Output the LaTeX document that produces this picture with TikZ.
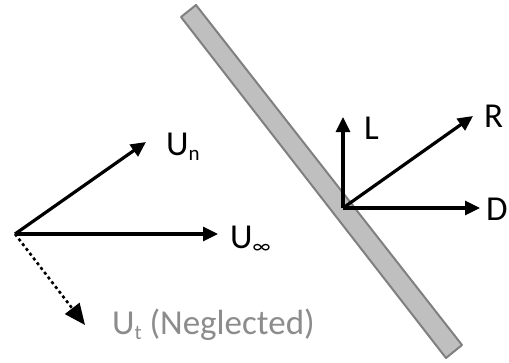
\documentclass[tikz,border=0pt]{standalone}
\usepackage{fontspec}
\setmainfont{Carlito}
\usetikzlibrary{arrows.meta}
\definecolor{platefill}{RGB}{191,191,191}
\definecolor{plateedge}{RGB}{128,128,128}
\definecolor{neglect}{RGB}{140,140,140}
\newcommand{\sbs}[1]{\raisebox{-0.16em}{\fontsize{21}{22}\selectfont #1}}
\tikzset{
  vec/.style={line width=3.2pt, -{Triangle[length=15pt,width=14pt]}},
  dvec/.style={line width=2.6pt, dash pattern=on 3pt off 3pt, -{Triangle[length=21pt,width=18pt]}},
  lab/.style={anchor=base west, inner sep=0pt, font=\fontsize{35}{40}\selectfont},
  plate/.style={fill=platefill, draw=plateedge, line width=2pt, line join=round}
}
\begin{document}
\begin{tikzpicture}[x=1pt,y=-1pt]
\useasboundingbox (0,0) rectangle (509,362);
% plate
\draw[plate] (181,17) -- (196,5) -- (462,345) -- (446,358) -- cycle;
% left vectors
\coordinate (o1) at (15,234);
\coordinate (uinf) at (218,234);
\coordinate (un) at (146,142);
\coordinate (ut) at (85,325);
\draw[vec] (o1) -- (uinf);
\draw[vec] (o1) -- (un);
\draw[dvec] (o1) -- (ut);
\node[lab] (lun) at (166,155) {U\sbs{n}};
\node[lab] (luinf) at (230,248) {U\sbs{∞}};
\node[lab, text=neglect] (lut) at (112,334) {U\sbs{t} (Neglected)};
% right vectors
\coordinate (o2) at (343,208);
\coordinate (l) at (343,117);
\coordinate (r) at (473,116);
\coordinate (d) at (480,208);
\draw[vec] (o2) -- (l);
\draw[vec] (o2) -- (r);
\draw[vec] (o2) -- (d);
\node[lab] (ll) at (364,139) {L};
\node[lab] (lr) at (484,127) {R};
\node[lab] (ld) at (486,220) {D};
\end{tikzpicture}
\end{document}
